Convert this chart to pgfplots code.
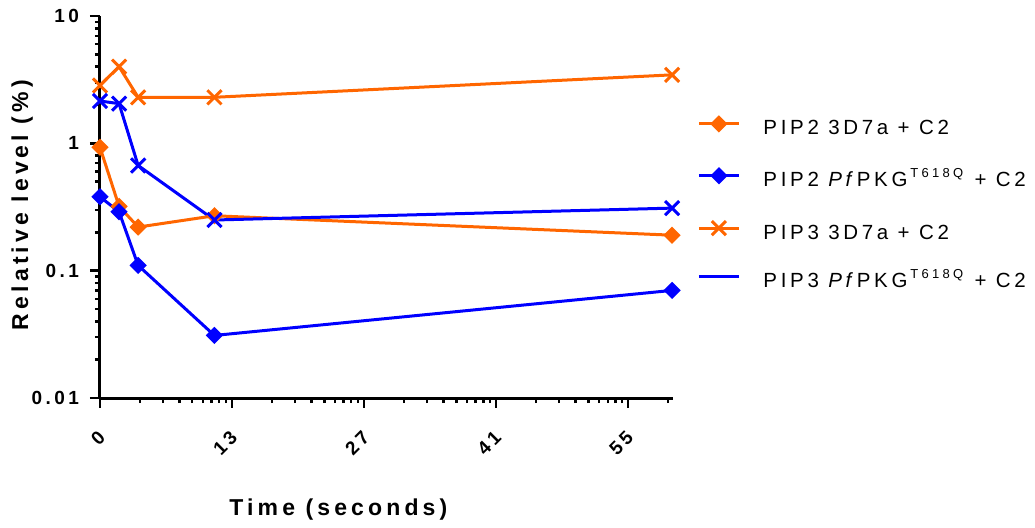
\documentclass[border=0pt]{standalone}
\usepackage{fontspec}
\setmainfont{Liberation Sans}[LetterSpace=18]
\usepackage{pgfplots}
\pgfplotsset{compat=1.18}
\definecolor{porange}{RGB}{255,102,0}
\definecolor{pblue}{RGB}{0,0,255}
\newcommand\sups[1]{\hspace{1.5pt}\raisebox{4.5pt}{\fontsize{6.5}{7}\selectfont\addfontfeature{LetterSpace=25}#1}\hspace{1pt}}
\begin{document}
\begin{tikzpicture}
\path[use as bounding box] (-50pt,-64.5pt) rectangle (467.5pt,199pt);
\begin{axis}[
  at={(0,0)}, anchor=south west, scale only axis, width=286.5pt, height=191pt,
  xmin=0, xmax=60.1, ymode=log, ymin=0.01, ymax=10,
  clip=false,
  axis lines*=left, axis line style={line width=1.5pt},
  tick align=outside, major tick length=5pt, minor tick length=2.5pt,
  every tick/.style={black, line width=1.2pt},
  xtick={0,13.85,27.7,41.55,55.4}, xticklabels={0,13,27,41,55},
  minor xtick={4.169,6.608,8.339,9.681,10.777,11.705,12.508,13.216,
    18.019,20.458,22.189,23.531,24.627,25.555,26.358,27.066,
    31.869,34.308,36.039,37.381,38.477,39.405,40.208,40.916,
    45.719,48.158,49.889,51.231,52.327,53.255,54.058,54.766,59.569},
  ytick={0.01,0.1,1,10}, yticklabels={0.01,0.1,1,10},
  minor ytick={0.02,0.03,0.04,0.05,0.06,0.07,0.08,0.09,0.2,0.3,0.4,0.5,0.6,0.7,0.8,0.9,2,3,4,5,6,7,8,9},
  xticklabel style={rotate=45, anchor=north east, xshift=-5.3pt, yshift=-3.2pt, font=\fontsize{9.5}{11}\selectfont\bfseries},
  yticklabel style={xshift=-2pt, font=\fontsize{9.5}{11}\selectfont\bfseries},
  xlabel={Time (seconds)}, ylabel={Relative level (\%)},
  every axis x label/.style={at={(axis description cs:0.416,-0.293)}, anchor=center, font=\fontsize{11.5}{13}\selectfont\bfseries},
  every axis y label/.style={at={(axis description cs:-0.136,0.505)}, anchor=center, rotate=90, font=\fontsize{11.5}{13}\selectfont\bfseries},
  legend style={at={(axis description cs:1.0314,0.746)}, anchor=north west, draw=none, fill=none,
    font=\fontsize{10.25}{11}\selectfont, row sep=15.15pt,
    nodes={inner sep=0pt, text height=7pt, text depth=2pt}},
  legend cell align=left,
  /tikz/every odd column/.append style={column sep=11.5pt},
  legend image code/.code={\draw[#1, mark repeat=2, mark phase=2] plot coordinates {(0pt,3pt) (10pt,3pt) (20pt,3pt)};},
  every axis plot/.append style={line width=1.5pt},
]
\addplot[color=porange, mark=square*, mark size=2.3pt, mark options={rotate=45, solid}] coordinates {
  (0,0.93) (2,0.32) (4,0.22) (12,0.27) (60,0.19)};
\addlegendentry{PIP2 3D7a + C2}
\addplot[color=pblue, mark=square*, mark size=2.3pt, mark options={rotate=45, solid}] coordinates {
  (0,0.38) (2,0.29) (4,0.11) (12,0.031) (60,0.07)};
\addlegendentry{PIP2 \textit{Pf}PKG\sups{T618Q} + C2}
\addplot[color=porange, mark=x, mark size=5pt] coordinates {
  (0,2.85) (2,4.0) (4,2.3) (12,2.3) (60,3.45)};
\addlegendentry{PIP3 3D7a + C2}
\addplot[color=pblue, mark=x, mark size=5pt, legend image post style={mark=none}] coordinates {
  (0,2.15) (2,2.05) (4,0.67) (12,0.25) (60,0.31)};
\addlegendentry{PIP3 \textit{Pf}PKG\sups{T618Q} + C2}
\end{axis}
\end{tikzpicture}
\end{document}
